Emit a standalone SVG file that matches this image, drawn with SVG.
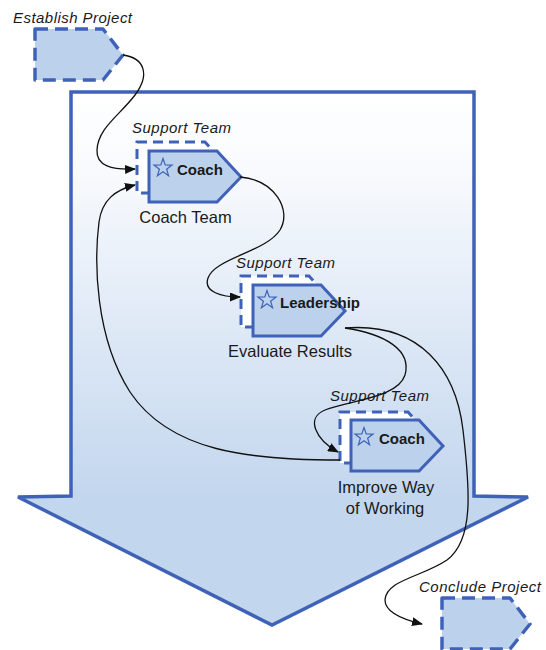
<svg xmlns="http://www.w3.org/2000/svg" xmlns:xlink="http://www.w3.org/1999/xlink" width="546" height="650" viewBox="0 0 546 650">
  <defs>
    <linearGradient id="flowGrad" gradientUnits="userSpaceOnUse" x1="0" y1="92" x2="0" y2="500">
      <stop offset="0" stop-color="#ffffff"/>
      <stop offset="0.2" stop-color="#f8fafd"/>
      <stop offset="1" stop-color="#c2d6ee"/>
    </linearGradient>
    <path id="tag" d="M0,0 H68 L92,26 L68,51 H0 Z"/>
    <path id="endtag" d="M0,0 H68 L88,26 L68,51 H0 Z"/>
    <polygon id="star" points="0,-9.5 2.2,-3.1 9.03,-2.94 3.6,1.17 5.58,7.69 0,3.8 -5.58,7.69 -3.6,1.17 -9.03,-2.94 -2.2,-3.1"/>
    <marker id="arrow" markerWidth="11" markerHeight="9" refX="10" refY="4.5" orient="auto" markerUnits="userSpaceOnUse">
      <path d="M0,0 L11,4.5 L0,9 Z" fill="#111"/>
    </marker>
  </defs>
  <style>
    .flow { fill: url(#flowGrad); stroke: #3f62b8; stroke-width: 3.5; stroke-linejoin: miter; }
    .node { fill: #bcd2ec; stroke: #3f62b8; stroke-width: 3; stroke-linejoin: miter; }
    .support { fill: #ffffff; stroke: #3f62b8; stroke-width: 3; stroke-dasharray: 10 6; }
    .ends { fill: #bcd2ec; stroke: #3f62b8; stroke-width: 3.5; stroke-dasharray: 13 7; stroke-linejoin: round; }
    .star { fill: none; stroke: #3f62b8; stroke-width: 1.2; stroke-linejoin: miter; }
    .it { font-family: "Liberation Sans", Arial, sans-serif; font-style: italic; font-size: 15px; fill: #1a1a1a; }
    .bold { font-family: "Liberation Sans", Arial, sans-serif; font-weight: bold; font-size: 15px; fill: #1a1a1a; }
    .lbl { font-family: "Liberation Sans", Arial, sans-serif; font-size: 16.5px; fill: #1a1a1a; text-anchor: middle; }
    .conn { fill: none; stroke: #111; stroke-width: 1.3; marker-end: url(#arrow); }
  </style>

  <polygon id="flow-arrow" class="flow" points="71,92 474,92 474,496 528,497 272,625 18,497 71,496"/>

  <g id="establish-project">
    <use xlink:href="#endtag" href="#endtag" class="ends" x="35" y="29"/>
    <text class="it" x="13" y="23" textLength="119">Establish Project</text>
  </g>

  <g id="coach-team">
    <text class="it" x="132" y="133" textLength="99">Support Team</text>
    <use xlink:href="#tag" href="#tag" class="support" x="137" y="142"/>
    <use xlink:href="#tag" href="#tag" class="node" x="149" y="151"/>
    <use xlink:href="#star" href="#star" class="star" x="163" y="168"/>
    <text class="bold" x="177" y="175">Coach</text>
    <text class="lbl" x="185.5" y="223">Coach Team</text>
  </g>

  <g id="evaluate-results">
    <text class="it" x="236" y="268" textLength="99">Support Team</text>
    <use xlink:href="#tag" href="#tag" class="support" x="241" y="276"/>
    <use xlink:href="#tag" href="#tag" class="node" x="253" y="285"/>
    <use xlink:href="#star" href="#star" class="star" x="267" y="300"/>
    <text class="bold" x="280" y="308">Leadership</text>
    <text class="lbl" x="290" y="357">Evaluate Results</text>
  </g>

  <g id="improve-way-of-working">
    <text class="it" x="330" y="401" textLength="99">Support Team</text>
    <use xlink:href="#tag" href="#tag" class="support" x="340" y="412"/>
    <use xlink:href="#tag" href="#tag" class="node" x="351" y="420"/>
    <use xlink:href="#star" href="#star" class="star" x="364" y="437"/>
    <text class="bold" x="379" y="444">Coach</text>
    <text class="lbl" x="386" y="493">Improve Way</text>
    <text class="lbl" x="385" y="514">of Working</text>
  </g>

  <g id="conclude-project">
    <text class="it" x="419" y="592" textLength="122">Conclude Project</text>
    <use xlink:href="#endtag" href="#endtag" class="ends" x="442" y="598"/>
  </g>

  <g id="connectors">
    <path class="conn" d="M123,55 C145,58 150,75 135,95 C120,115 98,128 97,150 C96,166 112,170 135,169"/>
    <path class="conn" d="M240,177 C275,180 292,210 280,230 C266,252 215,258 208,278 C203,292 222,297 240,297"/>
    <path class="conn" d="M345,328 C385,334 412,350 405,375 C398,398 350,400 325,410 C305,418 316,440 338,452"/>
    <path class="conn" d="M340,460 C250,460 170,452 130,392 C95,337 94,262 99,222 C102,200 115,190 135,185"/>
    <path class="conn" d="M345,328 C420,322 456,370 463,430 C470,490 474,540 447,560 C422,577 386,580 385,600 C385,613 405,620 422,624"/>
  </g>
</svg>
